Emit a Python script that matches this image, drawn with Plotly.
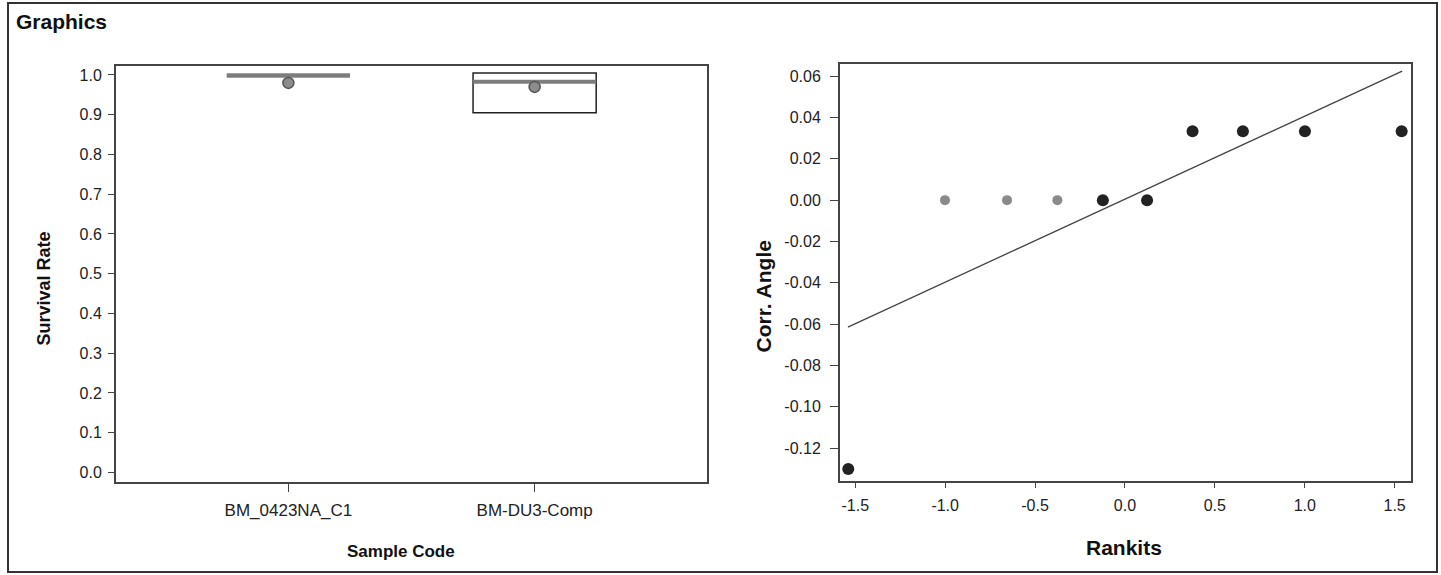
import plotly.graph_objects as go

# ---------------- data ----------------
sample_codes = ["BM_0423NA_C1", "BM-DU3-Comp"]
box_q1 = [0.999, 0.905]
box_median = [0.999, 0.983]
box_q3 = [0.999, 1.005]
box_mean = [0.980, 0.970]

rankits_gray = [-1.001, -0.656, -0.376]
angle_gray = [0.0, 0.0, 0.0]
rankits_black = [-1.539, -0.123, 0.123, 0.376, 0.656, 1.001, 1.539]
angle_black = [-0.130, 0.0, 0.0, 0.0333, 0.0333, 0.0333, 0.0333]
fit_x = [-1.541, 1.542]
fit_y = [-0.0614, 0.0624]

left_yticks = [0.0, 0.1, 0.2, 0.3, 0.4, 0.5, 0.6, 0.7, 0.8, 0.9, 1.0]
left_yticktext = ["0.0", "0.1", "0.2", "0.3", "0.4", "0.5", "0.6", "0.7", "0.8", "0.9", "1.0"]
right_yticks = [-0.12, -0.10, -0.08, -0.06, -0.04, -0.02, 0.0, 0.02, 0.04, 0.06]
right_yticktext = ["-0.12", "-0.10", "-0.08", "-0.06", "-0.04", "-0.02", "0.00", "0.02", "0.04", "0.06"]
right_xticks = [-1.5, -1.0, -0.5, 0.0, 0.5, 1.0, 1.5]
right_xticktext = ["-1.5", "-1.0", "-0.5", "0.0", "0.5", "1.0", "1.5"]

W, H = 1441, 575
BOX_W = 0.5
FONT = "Liberation Sans, Arial, sans-serif"


def px(x):
    return x / W


def py(y):
    return 1 - y / H


fig = go.Figure()

# ---------------- left: box plots ----------------
box_line_colors = ["#8a8a8a", "#222222"]
box_line_widths = [4, 1.5]
for i, code in enumerate(sample_codes):
    fig.add_trace(go.Box(
        x=[i], q1=[box_q1[i]], median=[box_median[i]], q3=[box_q3[i]],
        lowerfence=[box_q1[i]], upperfence=[box_q3[i]],
        width=BOX_W, boxpoints=False, fillcolor="rgba(0,0,0,0)",
        line=dict(color=box_line_colors[i], width=box_line_widths[i]),
        whiskerwidth=0, showlegend=False, xaxis="x", yaxis="y", name=code,
    ))
    # gray median bar
    fig.add_trace(go.Scatter(
        x=[i - BOX_W / 2, i + BOX_W / 2], y=[box_median[i], box_median[i]],
        mode="lines", line=dict(color="#7d7d7d", width=4),
        showlegend=False, xaxis="x", yaxis="y", hoverinfo="skip",
    ))

fig.add_trace(go.Scatter(
    x=list(range(len(sample_codes))), y=box_mean, mode="markers",
    marker=dict(size=11, color="#8c8c8c", line=dict(color="#555555", width=1.5)),
    showlegend=False, xaxis="x", yaxis="y", name="Mean",
))

# ---------------- right: normal quantile plot ----------------
fig.add_trace(go.Scatter(
    x=fit_x, y=fit_y, mode="lines", line=dict(color="#444444", width=1.3),
    showlegend=False, xaxis="x2", yaxis="y2", hoverinfo="skip",
))
fig.add_trace(go.Scatter(
    x=rankits_gray, y=angle_gray, mode="markers",
    marker=dict(size=10, color="#8a8a8a"),
    showlegend=False, xaxis="x2", yaxis="y2",
))
fig.add_trace(go.Scatter(
    x=rankits_black, y=angle_black, mode="markers",
    marker=dict(size=12, color="#222222"),
    showlegend=False, xaxis="x2", yaxis="y2",
))

axis_common = dict(
    showline=True, mirror=True, linecolor="#444444", linewidth=2,
    showgrid=False, zeroline=False, ticks="outside", tickcolor="#444444",
)
tick_font = dict(family=FONT, size=16, color="#222222")

fig.update_layout(
    width=W, height=H, margin=dict(l=0, r=0, t=0, b=0),
    paper_bgcolor="white", plot_bgcolor="white",
    xaxis=dict(
        domain=[px(116), px(707)], range=[-0.7, 1.7],
        tickvals=list(range(len(sample_codes))), ticktext=sample_codes,
        ticklen=8, ticklabelstandoff=4, anchor="y",
        tickfont=dict(family=FONT, size=17, color="#222222"), **axis_common,
    ),
    yaxis=dict(
        domain=[py(482), py(66)], range=[-0.024, 1.0226],
        tickvals=left_yticks, ticktext=left_yticktext,
        ticklen=6, ticklabelstandoff=3, anchor="x", tickfont=tick_font, **axis_common,
    ),
    xaxis2=dict(
        domain=[px(840), px(1411)], range=[-1.585, 1.591],
        tickvals=right_xticks, ticktext=right_xticktext,
        ticklen=5, ticklabelstandoff=4, anchor="y2", tickfont=tick_font, **axis_common,
    ),
    yaxis2=dict(
        domain=[py(480.7), py(63.5)], range=[-0.1357, 0.0661],
        tickvals=right_yticks, ticktext=right_yticktext,
        ticklen=8, ticklabelstandoff=6, anchor="x2", tickfont=tick_font, **axis_common,
    ),
    annotations=[
        dict(text="<b>Graphics</b>", x=px(14), y=py(22), xref="paper", yref="paper",
             xanchor="left", yanchor="middle", showarrow=False,
             font=dict(family=FONT, size=21, color="#111111")),
        dict(text="<b>Survival Rate</b>", x=px(43), y=py(288.5), xref="paper", yref="paper",
             xanchor="center", yanchor="middle", textangle=-90, showarrow=False,
             font=dict(family=FONT, size=18, color="#111111")),
        dict(text="<b>Sample Code</b>", x=px(401), y=py(551), xref="paper", yref="paper",
             xanchor="center", yanchor="middle", showarrow=False,
             font=dict(family=FONT, size=17, color="#111111")),
        dict(text="<b>Corr. Angle</b>", x=px(763), y=py(296.5), xref="paper", yref="paper",
             xanchor="center", yanchor="middle", textangle=-90, showarrow=False,
             font=dict(family=FONT, size=21, color="#111111")),
        dict(text="<b>Rankits</b>", x=px(1124), y=py(547), xref="paper", yref="paper",
             xanchor="center", yanchor="middle", showarrow=False,
             font=dict(family=FONT, size=21, color="#111111")),
    ],
    shapes=[
        dict(type="rect", xref="paper", yref="paper",
             x0=px(8), x1=px(1437), y0=py(572), y1=py(3),
             line=dict(color="#333333", width=2)),
    ],
)

fig.write_html(
    "out.html",
    config={"displayModeBar": False},
    post_script="document.body.style.margin='0';document.body.style.overflow='hidden';",
)
